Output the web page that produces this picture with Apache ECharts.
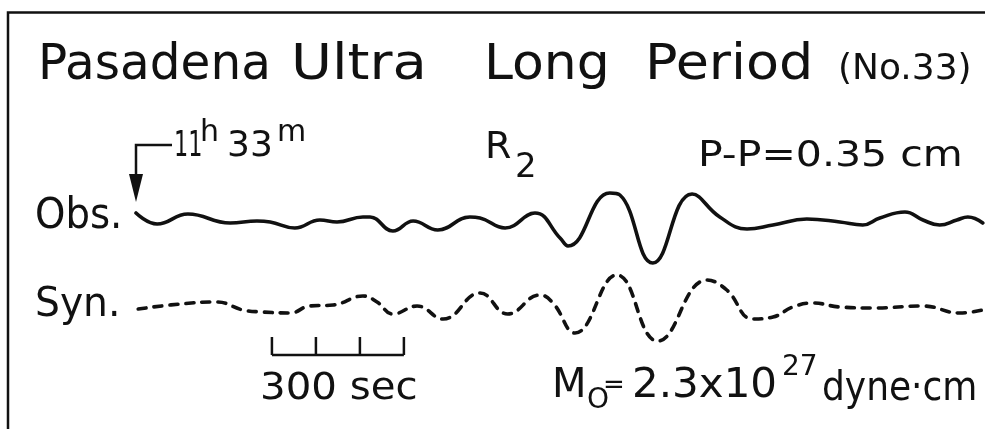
<!DOCTYPE html>
<html>
<head>
<meta charset="utf-8">
<script src="https://cdn.jsdelivr.net/npm/echarts@6/dist/echarts.min.js"></script>
<style>
  html, body { margin: 0; padding: 0; background: #fff; }
  #chart { width: 985px; height: 429px; }
</style>
</head>
<body>
<div id="chart"></div>
<script>
// Observed long-period record: time after 11h33m (s) and trace amplitude (cm)
const obsTime = [0, 48, 118, 214, 275, 305, 361, 418, 457, 516, 532, 584, 630, 686, 759, 782, 839, 907, 964, 982, 1077, 1100, 1175, 1264, 1327, 1389, 1448, 1525, 1600, 1652, 1691, 1748, 1789, 1827, 1866, 1891, 1925];
const obsAmp  = [0.035, -0.02, 0.03, -0.015, -0.005, -0.01, -0.04, 0, -0.01, 0.015, 0.015, -0.055, -0.005, -0.05, 0.015, 0.01, -0.04, 0.035, -0.09, -0.13, 0.135, 0.125, -0.215, 0.13, 0.015, -0.045, -0.025, 0.005, -0.01, -0.025, 0.01, 0.04, 0, -0.025, 0, 0.015, -0.015];

// Synthetic seismogram for the same window
const synTime = [5, 100, 184, 243, 289, 350, 395, 448, 516, 548, 584, 639, 698, 782, 845, 918, 948, 998, 1093, 1186, 1298, 1343, 1402, 1448, 1493, 1539, 1600, 1675, 1789, 1873, 1925];
const synAmp  = [-0.005, 0.02, 0.03, -0.01, -0.02, -0.025, 0.01, 0.015, 0.06, 0.03, -0.03, 0.01, -0.055, 0.075, -0.03, 0.065, 0.025, -0.125, 0.165, -0.165, 0.14, 0.09, -0.055, -0.045, 0.005, 0.025, 0.005, 0, 0.01, -0.025, -0.01];

// 300 s time scale, drawn with 100 s divisions
const scaleStart = 309;
const scaleTicks = [0, 100, 200, 300];

const timeMax = 1930;
const ampRange = 0.25;

const FONT = 'DejaVu Sans';
const INK = '#111';

const pair = (xs, ys) => xs.map((x, i) => [x, ys[i]]);

const chart = echarts.init(document.getElementById('chart'), null, { renderer: 'canvas' });

const option = {
  backgroundColor: '#fff',
  animation: false,
  grid: [
    { left: 136, right: 0, top: 170, height: 100 },
    { left: 136, right: 0, top: 258, height: 100 }
  ],
  xAxis: [
    { type: 'value', gridIndex: 0, min: 0, max: timeMax, show: false },
    { type: 'value', gridIndex: 1, min: 0, max: timeMax, show: false }
  ],
  yAxis: [
    { type: 'value', gridIndex: 0, min: -ampRange, max: ampRange, show: false },
    { type: 'value', gridIndex: 1, min: -ampRange, max: ampRange, show: false }
  ],
  series: [
    {
      name: 'Obs.', type: 'line', xAxisIndex: 0, yAxisIndex: 0,
      data: pair(obsTime, obsAmp), smooth: 0.45, symbol: 'none',
      lineStyle: { color: INK, width: 3.6, cap: 'round', join: 'round' }
    },
    {
      name: 'Syn.', type: 'line', xAxisIndex: 1, yAxisIndex: 1,
      data: pair(synTime, synAmp), smooth: 0.45, symbol: 'none',
      lineStyle: { color: INK, width: 3.6, type: [8, 8], cap: 'round', join: 'round' }
    }
  ]
};
chart.setOption(option);

// Text placed at (x, y), optionally stretched horizontally to the lettering width
function txt(text, x, y, size, sx) {
  return {
    type: 'text', silent: true, x: x, y: y, scaleX: sx || 1,
    style: {
      text: text, x: 0, y: 0, fill: INK,
      font: size + 'px "' + FONT + '"',
      textAlign: 'left', textVerticalAlign: 'middle'
    }
  };
}

// Annotation layer: frame, labels, onset arrow and time scale
const t0 = chart.convertToPixel({ xAxisIndex: 0 }, 0);
const scalePx = scaleTicks.map(s => chart.convertToPixel({ xAxisIndex: 1 }, scaleStart + s));
const barY = 355;
const lineSt = { stroke: INK, lineWidth: 2.5, fill: null };

const graphics = [
  { type: 'polyline', shape: { points: [[8, 429], [8, 12.5], [985, 12.5]] }, style: lineSt, silent: true },

  txt('Pasadena', 38, 66, 50, 0.97),
  txt('Ultra', 291, 66, 50, 1.12),
  txt('Long', 484, 66, 50, 1.04),
  txt('Period', 645, 66, 50, 1.08),
  txt('(No.33)', 838, 70, 36),

  // onset marker 11h33m
  { type: 'polyline', shape: { points: [[172, 145], [t0, 145], [t0, 176]] }, style: lineSt, silent: true },
  { type: 'polygon', shape: { points: [[t0 - 7, 174], [t0 + 7, 174], [t0, 202]] }, style: { fill: INK }, silent: true },
  txt('11', 174, 147, 36, 0.62),
  txt('h', 200, 133, 30),
  txt('33', 227, 147, 36),
  txt('m', 277, 133, 30),

  txt('R', 485, 148, 38),
  txt('2', 515, 168, 34),
  txt('P-P=0.35 cm', 698, 157, 36, 1.14),

  txt('Obs.', 35, 217, 42, 0.92),
  txt('Syn.', 35, 306, 40, 0.98),

  // time scale
  { type: 'polyline', shape: { points: [[scalePx[0], barY], [scalePx[scalePx.length - 1], barY]] }, style: lineSt, silent: true }
].concat(scalePx.map(px => ({
  type: 'line', silent: true,
  shape: { x1: px, y1: barY, x2: px, y2: 337 },
  style: lineSt
}))).concat([
  txt('300 sec', 260, 389, 38, 1.06),

  txt('M', 552, 387, 40),
  txt('O', 587, 401, 28),
  txt('=', 603, 386, 26),
  txt('2.3x10', 632, 387, 40, 1.05),
  txt('27', 782, 368, 28),
  txt('dyne·cm', 822, 390, 40, 0.9)
]);

chart.setOption({ graphic: graphics });
</script>
</body>
</html>
